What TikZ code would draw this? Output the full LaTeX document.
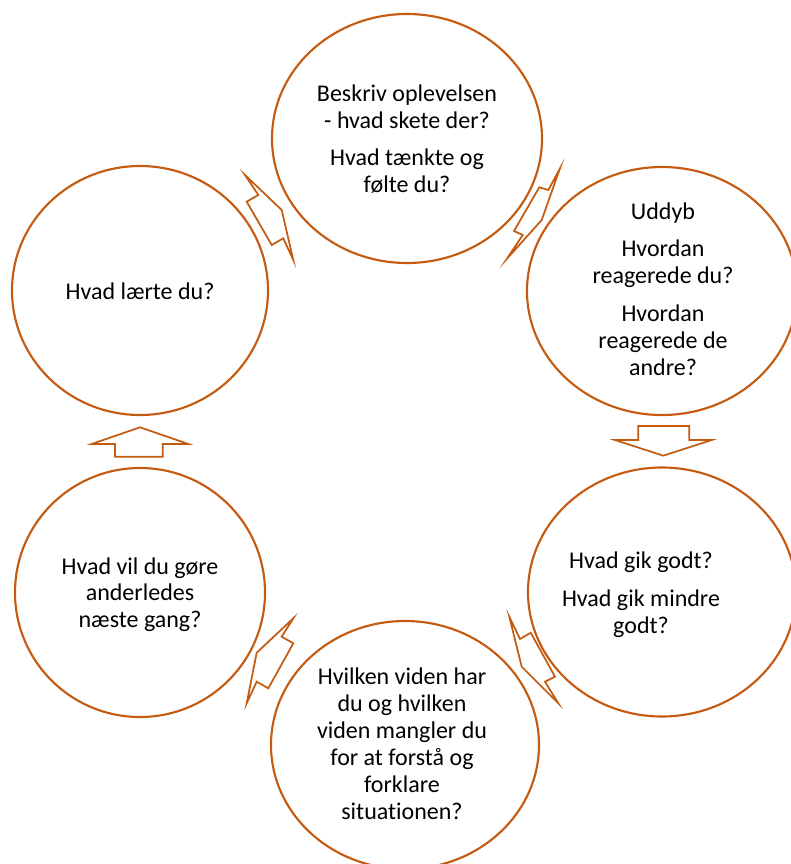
\documentclass[tikz,border=0pt]{standalone}
\usepackage{fontspec}
\setmainfont{Carlito}[Ligatures=NoCommon]
\usetikzlibrary{shapes.geometric}
\definecolor{accent}{RGB}{197,90,17}
\tikzset{
  ring/.style={draw=accent, line width=1.6pt, ellipse, inner sep=0pt, fill=white},
  txt/.style={align=center, font=\fontsize{18}{20.2}\selectfont, text=black, inner sep=0pt},
  blockarrow/.style={draw=accent, line width=1.3pt, line join=miter, miter limit=20, fill=white}
}
\begin{document}
\begin{tikzpicture}[x=0.75pt,y=-0.75pt]
\useasboundingbox (0,0) rectangle (791,864);
% circles
\node[ring, minimum width=202.5pt, minimum height=186.75pt] (c1) at (407,138.5) {};
\node[ring, minimum width=202.5pt, minimum height=186pt] (c2) at (662,291) {};
\node[ring, minimum width=201pt, minimum height=186.75pt] (c3) at (662,592) {};
\node[ring, minimum width=201pt, minimum height=186pt] (c4) at (405,745) {};
\node[ring, minimum width=187.5pt, minimum height=186.75pt] (c5) at (140,592.5) {};
\node[ring, minimum width=192pt, minimum height=186.75pt] (c6) at (140,290.5) {};
% texts
\node[txt] (t1) at (407,139) {Beskriv oplevelsen\\- hvad skete der?\\[8pt]Hvad tænkte og\\følte du?};
\node[txt] (t2) at (663,289) {Uddyb\\[8pt]Hvordan\\reagerede du?\\[8pt]Hvordan\\reagerede de\\andre?};
\node[txt] (t3) at (641,594.5) {Hvad gik godt?\\[8pt]Hvad gik mindre\\godt?};
\node[txt] (t4) at (402,744) {Hvilken viden har\\du og hvilken\\viden mangler du\\for at forstå og\\forklare\\situationen?};
\node[txt] (t5) at (140,594.7) {Hvad vil du gøre\\anderledes\\næste gang?};
\node[txt] (t6) at (140,291.7) {Hvad lærte du?};
% block arrows
\draw[blockarrow] (245,175) -- (258.3,195) -- (246.7,201.7) -- (271.7,245) -- (283.3,238.3) -- (293.3,260) -- (281.7,210) -- cycle;
\draw[blockarrow] (560,168.3) -- (548.3,190) -- (539.3,187.3) -- (514,231) -- (522.7,235) -- (506.7,259) -- (541.7,220) -- cycle;
\draw[blockarrow] (638.3,426) -- (689.3,426) -- (689.3,440) -- (711.7,440) -- (663.3,455.7) -- (615,440) -- (638.3,440) -- cycle;
\draw[blockarrow] (509.3,616.7) -- (520,639) -- (530.7,632.7) -- (555,676.7) -- (545,681.7) -- (558.3,703.3) -- (521.7,666.7) -- cycle;
\draw[blockarrow] (293.3,618.3) -- (281.7,636.7) -- (293.3,643.3) -- (268.3,688.3) -- (256.7,681.7) -- (246.7,703.3) -- (256.7,652.7) -- cycle;
\draw[blockarrow] (140,427.3) -- (188.3,444) -- (162.7,444) -- (162.7,456.7) -- (115,456.7) -- (115,444) -- (91.7,444) -- cycle;
\end{tikzpicture}
\end{document}
